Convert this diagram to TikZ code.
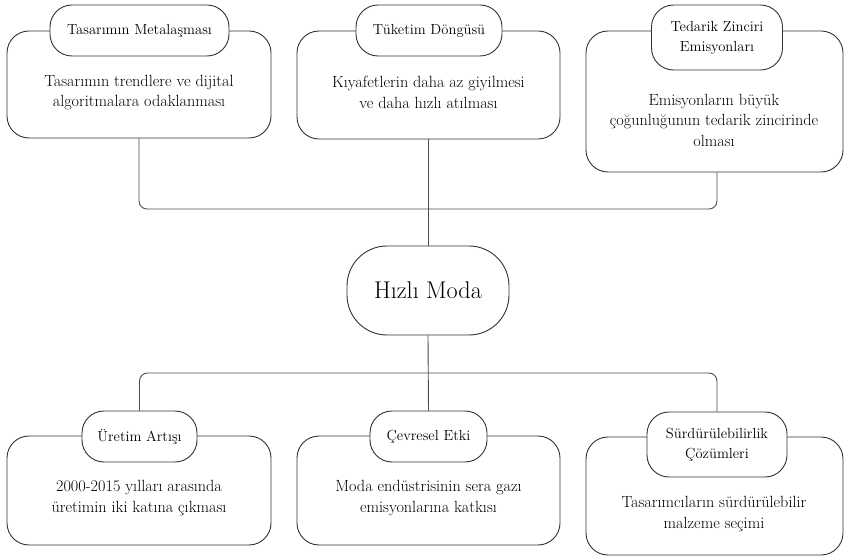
\documentclass[tikz,border=0pt]{standalone}
\begin{document}
\begin{tikzpicture}[x=1pt,y=-1pt,
  box/.style={draw=black!80, line width=0.9pt, rounded corners=22pt, fill=white, inner sep=0pt},
  pill/.style={draw=black!80, line width=0.9pt, rounded corners=22pt, fill=white, inner sep=0pt, align=center, font=\fontsize{14.6}{20}\selectfont},
  hubpill/.style={draw=black!80, line width=0.9pt, rounded corners=40pt, fill=white, inner sep=0pt, font=\fontsize{24.2}{28}\selectfont},
  body/.style={align=center, font=\fontsize{16.2}{20.5}\selectfont, inner sep=0pt},
  conn/.style={draw=black!70, line width=0.9pt, rounded corners=8pt}]
\useasboundingbox (0,0) rectangle (844,556);
% boxes
\node[box, minimum width=264pt, minimum height=107pt] (b1) at (139,84.5) {};
\node[box, minimum width=263pt, minimum height=108pt] (b2) at (428.5,85) {};
\node[box, minimum width=257pt, minimum height=141pt] (b3) at (714.5,101.5) {};
\node[box, minimum width=264pt, minimum height=109pt] (b4) at (139,490.5) {};
\node[box, minimum width=263pt, minimum height=109pt] (b5) at (428.5,490.5) {};
\node[box, minimum width=257pt, minimum height=118pt] (b6) at (714.5,496) {};
% pills
\node[pill, minimum width=179pt, minimum height=51pt] (p1) at (139.5,30.5) {Tasarımın Metalaşması};
\node[pill, minimum width=146pt, minimum height=51pt] (p2) at (429,30.5) {Tüketim Döngüsü};
\node[pill, minimum width=131pt, minimum height=65pt] (p3) at (717,37.5) {Tedarik Zinciri\\Emisyonları};
\node[hubpill, minimum width=162pt, minimum height=89pt] (hub) at (428,290.5) {Hızlı Moda};
\node[pill, minimum width=115pt, minimum height=51pt] (p4) at (139.5,436.5) {Üretim Artışı};
\node[pill, minimum width=117pt, minimum height=51pt] (p5) at (428.5,436.5) {Çevresel Etki};
\node[pill, minimum width=140pt, minimum height=65pt] (p6) at (717,444.5) {Sürdürülebilirlik\\Çözümleri};
% body texts
\node[body] (t1) at (139,92.5) {Tasarımın trendlere ve dijital\\algoritmalara odaklanması};
\node[body] (t2) at (428.5,92.5) {Kıyafetlerin daha az giyilmesi\\ve daha hızlı atılması};
\node[body] (t3) at (714,120) {Emisyonların büyük\\çoğunluğunun tedarik zincirinde\\olması};
\node[body] (t4) at (139,498) {2000-2015 yılları arasında\\üretimin iki katına çıkması};
\node[body] (t5) at (428.5,498) {Moda endüstrisinin sera gazı\\emisyonlarına katkısı};
\node[body] (t6) at (714,514) {Tasarımcıların sürdürülebilir\\malzeme seçimi};
% connectors
\coordinate (jt) at (428,209);
\coordinate (jb) at (428,373);
\draw[conn] (b1.south) |- (jt);
\draw[conn] (p3 |- b3.south) |- (jt);
\draw[conn] (hub |- b2.south) -- (hub.north);
\draw[conn] (hub.south) -- (p5.north);
\draw[conn] (jb) -| (p4.north);
\draw[conn] (jb) -| (p6.north);
\end{tikzpicture}
\end{document}
